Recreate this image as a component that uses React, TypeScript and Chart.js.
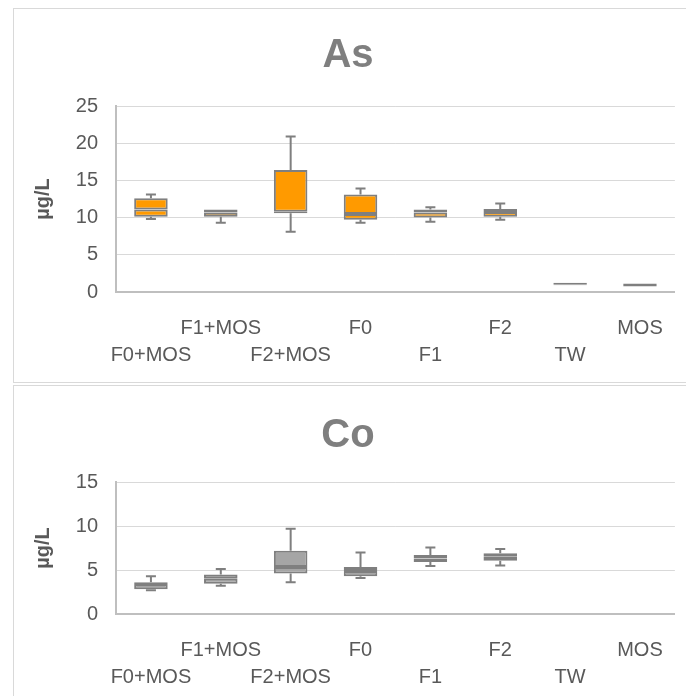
import React, { useEffect, useRef } from "react";
import { Chart, registerables } from "chart.js";

Chart.register(...registerables);

const categories = ["F0+MOS", "F1+MOS", "F2+MOS", "F0", "F1", "F2", "TW", "MOS"];

// As (µg/L)
const asMin = [9.8, 9.3, 8.1, 9.3, 9.45, 9.7, 0.9, 0.75];
const asQ1 = [10.1, 10.1, 10.6, 9.7, 10.0, 10.1, 0.9, 0.75];
const asMedian = [11.1, 10.7, 10.8, 10.5, 10.7, 10.75, 1.05, 0.95];
const asQ3 = [12.6, 11.1, 16.4, 13.1, 11.1, 11.15, 1.25, 1.15];
const asMax = [13.1, 11.1, 20.9, 13.9, 11.4, 11.9, 1.25, 1.15];

// Co (µg/L)
const coMin = [2.7, 3.2, 3.6, 4.1, 5.45, 5.5, null, null];
const coQ1 = [2.8, 3.45, 4.6, 4.3, 5.9, 6.05, null, null];
const coMedian = [3.4, 4.0, 5.35, 4.9, 6.3, 6.5, null, null];
const coQ3 = [3.6, 4.5, 7.2, 5.35, 6.7, 6.9, null, null];
const coMax = [4.3, 5.1, 9.7, 7.0, 7.55, 7.4, null, null];

const asTicksMax = 25;
const coTicksMax = 15;
const tickStep = 5;

const FONT = "'Liberation Sans', Arial, sans-serif";
const TEXT = "#595959";
const BOX_BORDER = "#7f7f7f";

type Num = number | null;

interface BoxProps {
  title: string;
  yMax: number;
  fill: string;
  mins: Num[];
  q1s: Num[];
  meds: Num[];
  q3s: Num[];
  maxs: Num[];
  width: number;
  height: number;
  titleTop: number;
  titleBottom: number;
}

function BoxChart(p: BoxProps) {
  const ref = useRef<HTMLCanvasElement>(null);
  useEffect(() => {
    if (!ref.current) return;
    const whiskers = {
      id: "whiskers",
      afterDatasetsDraw(chart: any) {
        const { ctx } = chart;
        const x = chart.scales.x;
        const y = chart.scales.y;
        ctx.save();
        ctx.strokeStyle = BOX_BORDER;
        ctx.lineWidth = 2;
        const seg = (px: number, from: number, to: number) => {
          if (Math.abs(to - from) < 1e-9) return;
          const y1 = y.getPixelForValue(from);
          const y2 = y.getPixelForValue(to);
          ctx.beginPath();
          ctx.moveTo(px, y1);
          ctx.lineTo(px, y2);
          ctx.moveTo(px - 5, y2);
          ctx.lineTo(px + 5, y2);
          ctx.stroke();
        };
        categories.forEach((_, i) => {
          const mn = p.mins[i], mx = p.maxs[i], a = p.q1s[i], b = p.q3s[i];
          if (mn == null || mx == null || a == null || b == null) return;
          const px = x.getPixelForValue(i);
          seg(px, b, mx);
          seg(px, a, mn);
        });
        ctx.restore();
      },
    };
    const lower = categories.map((_, i) =>
      p.q1s[i] == null ? null : [p.q1s[i] as number, p.meds[i] as number]
    );
    const upper = categories.map((_, i) =>
      p.q3s[i] == null ? null : [p.meds[i] as number, p.q3s[i] as number]
    );
    const ds = (data: any) => ({
      data,
      backgroundColor: p.fill,
      borderColor: BOX_BORDER,
      borderWidth: 2,
      borderSkipped: false,
      grouped: false,
      barPercentage: 0.48,
      categoryPercentage: 1,
    });
    const chart = new Chart(ref.current, {
      type: "bar",
      data: {
        labels: categories,
        datasets: [ds(lower), ds(upper)] as any,
      },
      options: {
        animation: false,
        responsive: false,
        events: [],
        layout: { padding: { left: 0, right: 4, top: 0, bottom: 0 } },
        plugins: {
          legend: { display: false },
          tooltip: { enabled: false },
          title: {
            display: true,
            text: p.title,
            color: "#7f7f7f",
            font: { family: FONT, size: 40, weight: "bold", lineHeight: 1.2 },
            padding: { top: p.titleTop, bottom: p.titleBottom },
          },
        },
        scales: {
          x: {
            type: "category",
            grid: { display: false, drawTicks: false },
            border: { display: true, color: "#bfbfbf", width: 2 },
            ticks: {
              autoSkip: false,
              maxRotation: 0,
              minRotation: 0,
              padding: 23,
              color: TEXT,
              font: { family: FONT, size: 20, lineHeight: 1.35 },
              callback: (_v: any, i: number) =>
                i % 2 === 0 ? ["", categories[i]] : [categories[i]],
            },
            afterFit: (s: any) => {
              s.height = 90;
            },
          },
          y: {
            min: 0,
            max: p.yMax,
            grid: { color: "#d9d9d9", lineWidth: 1, drawTicks: false },
            border: { display: true, color: "#bfbfbf", width: 2 },
            ticks: {
              stepSize: tickStep,
              padding: 18,
              color: TEXT,
              font: { family: FONT, size: 20 },
            },
            title: {
              display: true,
              text: "µg/L",
              color: TEXT,
              font: { family: FONT, size: 20, weight: "bold", lineHeight: 1.2 },
              padding: { top: 17, bottom: 0 },
            },
            afterFit: (s: any) => {
              s.width = 102;
            },
          },
        },
      } as any,
      plugins: [whiskers],
    });
    return () => chart.destroy();
  }, []);
  return <canvas ref={ref} width={p.width} height={p.height} style={{ display: "block" }} />;
}

export default function App() {
  const panel: React.CSSProperties = {
    position: "absolute",
    left: 13,
    width: 690,
    border: "1px solid #d9d9d9",
    background: "#fff",
  };
  return (
    <div
      style={{
        position: "absolute",
        left: 0,
        top: 0,
        width: 686,
        height: 696,
        overflow: "hidden",
        background: "#fff",
      }}
    >
      <div style={{ ...panel, top: 8, height: 373 }}>
        <BoxChart
          title="As"
          yMax={asTicksMax}
          fill="#FF9A00"
          mins={asMin}
          q1s={asQ1}
          meds={asMedian}
          q3s={asQ3}
          maxs={asMax}
          width={672}
          height={373}
          titleTop={23}
          titleBottom={26}
        />
      </div>
      <div style={{ ...panel, top: 385, height: 330 }}>
        <BoxChart
          title="Co"
          yMax={coTicksMax}
          fill="#A5A5A5"
          mins={coMin}
          q1s={coQ1}
          meds={coMedian}
          q3s={coQ3}
          maxs={coMax}
          width={672}
          height={318}
          titleTop={26}
          titleBottom={22}
        />
      </div>
    </div>
  );
}
